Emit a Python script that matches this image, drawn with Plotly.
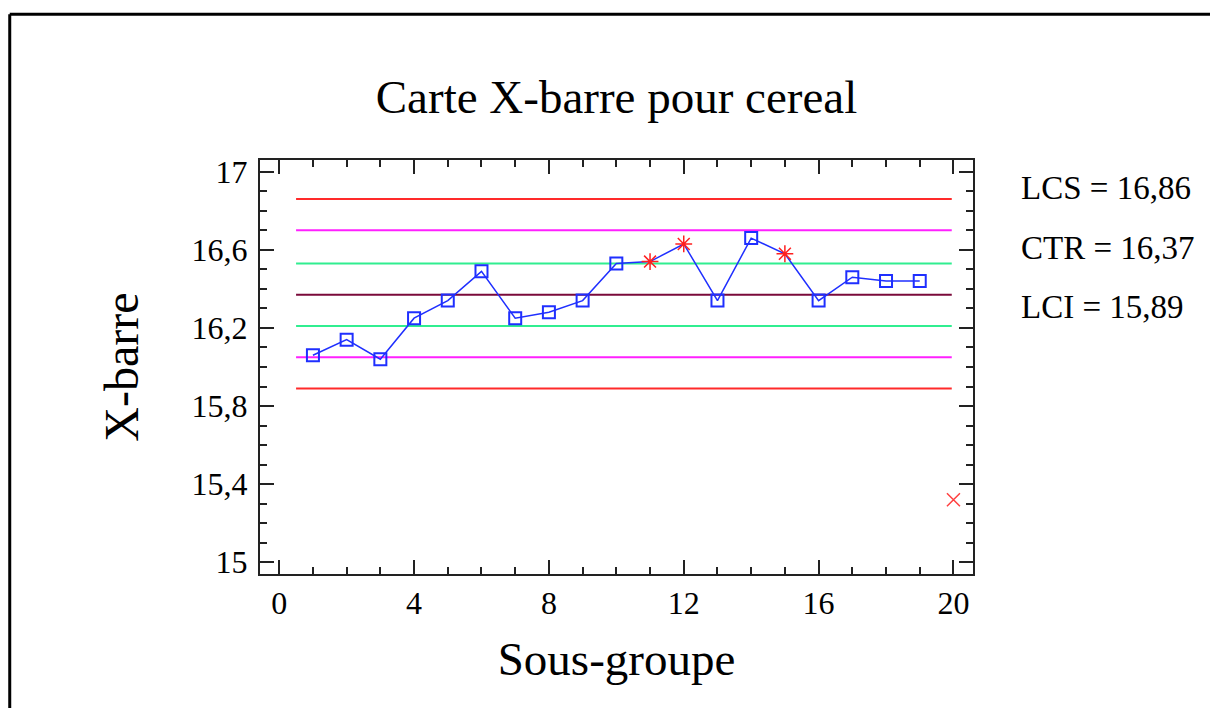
import plotly.graph_objects as go

# Subgroup means for the cereal fill-weight X-bar chart
subgroups = list(range(1, 21))
means = [16.06, 16.14, 16.04, 16.25, 16.34, 16.49, 16.25, 16.28, 16.34, 16.53,
         16.54, 16.63, 16.34, 16.66, 16.58, 16.34, 16.46, 16.44, 16.44, 15.32]
flagged = [11, 12, 15]      # points marked by run rules
excluded = [20]             # subgroup left out of the limits

# Control limits and zone boundaries
ucl, ctr, lcl = 16.86, 16.37, 15.89
zone_upper = [16.70, 16.53]
zone_lower = [16.21, 16.05]
limit_span = [0.5, 19.95]

FONT = "Liberation Serif"
BLUE = "#1f2fff"
INK = "#000000"

fig = go.Figure()

def hline(y, color):
    fig.add_trace(go.Scatter(x=limit_span, y=[y, y], mode="lines",
                             line=dict(color=color, width=2),
                             hoverinfo="skip", showlegend=False))

hline(ucl, "#ff2a2a")
hline(lcl, "#ff2a2a")
hline(zone_upper[0], "#ff20ff")
hline(zone_lower[1], "#ff20ff")
hline(zone_upper[1], "#30ee90")
hline(zone_lower[0], "#30ee90")
hline(ctr, "#7a0a3a")

kept_x = [s for s in subgroups if s not in excluded]
kept_y = [m for s, m in zip(subgroups, means) if s not in excluded]

fig.add_trace(go.Scatter(x=kept_x, y=kept_y, mode="lines",
                         line=dict(color=BLUE, width=1.5),
                         hoverinfo="skip", showlegend=False))

sq_x = [s for s in kept_x if s not in flagged]
sq_y = [m for s, m in zip(kept_x, kept_y) if s not in flagged]
fig.add_trace(go.Scatter(x=sq_x, y=sq_y, mode="markers",
                         marker=dict(symbol="square-open", size=12, color=BLUE,
                                     line=dict(width=2, color=BLUE)),
                         showlegend=False))

fl_y = [m for s, m in zip(subgroups, means) if s in flagged]
fig.add_trace(go.Scatter(x=flagged, y=fl_y, mode="markers",
                         marker=dict(symbol="asterisk-open", size=14, color="#ff2020",
                                     line=dict(width=1.5, color="#ff2020")),
                         showlegend=False))

ex_y = [m for s, m in zip(subgroups, means) if s in excluded]
fig.add_trace(go.Scatter(x=excluded, y=ex_y, mode="markers",
                         marker=dict(symbol="x-thin-open", size=13, color="#ff4040",
                                     line=dict(width=1.5, color="#ff4040")),
                         showlegend=False))

axis_common = dict(
    showline=True, linewidth=2, linecolor="#222222", mirror="ticks",
    ticks="inside", ticklen=14, tickwidth=2, tickcolor="#222222",
    showgrid=False, zeroline=False,
    tickfont=dict(family=FONT, size=32, color=INK),
)

fig.update_xaxes(
    range=[-0.57, 20.58], tick0=0, dtick=4,
    minor=dict(ticks="inside", dtick=1, ticklen=7, tickwidth=2, tickcolor="#222222"),
    title=dict(text="Sous-groupe", font=dict(family=FONT, size=47, color=INK),
               standoff=22),
    **axis_common,
)
fig.update_yaxes(
    range=[14.94, 17.06], tick0=15, dtick=0.4,
    minor=dict(ticks="inside", dtick=0.1, ticklen=7, tickwidth=2, tickcolor="#222222"),
    ticklabelstandoff=4,
    title=dict(text="X-barre", font=dict(family=FONT, size=48, color=INK),
               standoff=38),
    **axis_common,
)

def fmt(v):
    return f"{v:.2f}".replace(".", ",")

labels = [(f"LCS = {fmt(ucl)}", 0.932), (f"CTR = {fmt(ctr)}", 0.787),
          (f"LCI = {fmt(lcl)}", 0.645)]
for text, ypos in labels:
    fig.add_annotation(text=text, xref="paper", yref="paper", x=1.064, y=ypos,
                       xanchor="left", yanchor="middle", showarrow=False,
                       font=dict(family=FONT, size=33, color=INK))

# Outer frame edges (top and left)
fig.add_shape(type="line", xref="paper", yref="paper", x0=-0.351, x1=1.5,
              y0=1.352, y1=1.352, line=dict(color="black", width=3))
fig.add_shape(type="line", xref="paper", yref="paper", x0=-0.351, x1=-0.351,
              y0=1.352, y1=-0.5, line=dict(color="black", width=3))

fig.update_layout(
    width=1210, height=708,
    margin=dict(l=260, r=237, t=160, b=134),
    paper_bgcolor="white", plot_bgcolor="white",
    separators=", ",
    title=dict(text="Carte X-barre pour cereal", xref="paper", x=0.5,
               xanchor="center", y=1 - 97 / 708, yanchor="middle",
               font=dict(family=FONT, size=47, color=INK)),
    showlegend=False,
)

fig.write_html("out.html")
